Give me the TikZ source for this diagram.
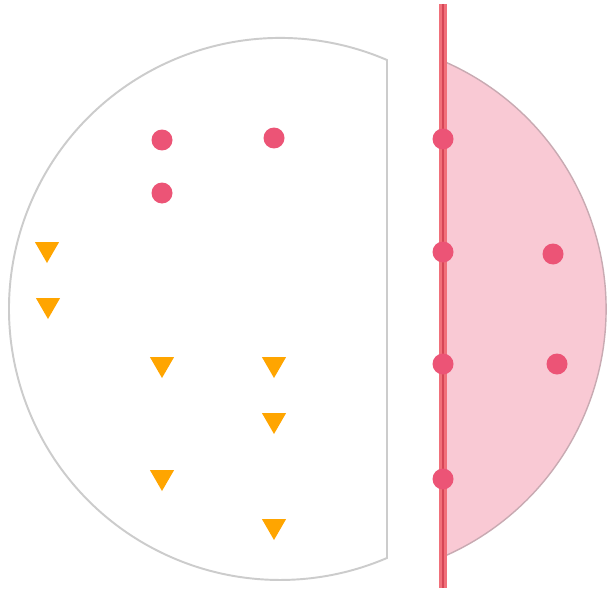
\documentclass[tikz,border=0pt]{standalone}
\usetikzlibrary{shapes.geometric}
\definecolor{dotred}{RGB}{236,84,118}
\definecolor{tri}{RGB}{255,165,0}
\definecolor{halfpink}{RGB}{249,201,212}
\definecolor{halfedge}{RGB}{200,170,178}
\definecolor{cutred}{RGB}{241,112,122}
\definecolor{cutdark}{RGB}{214,70,86}
\begin{document}
\begin{tikzpicture}[x=0.02cm,y=-0.02cm,half/.style={line width=1.1pt, draw=black!20},dot/.style={circle, fill=dotred, inner sep=0pt, minimum size=0.42cm},tridown/.style={regular polygon, regular polygon sides=3, shape border rotate=180, fill=tri, inner sep=0pt, minimum size=0.56cm}]
\useasboundingbox[fill=white] (0,0) rectangle (607,588);
% the two halves
\draw[half, fill=white] (387,60) arc[start angle=-66.75, end angle=-293.25, radius=271] -- cycle;
\draw[line width=0.8pt, draw=halfedge, fill=halfpink] (443,61) arc[start angle=-66.66, end angle=66.66, radius=270] -- cycle;
% cut line
\coordinate (cuttop) at (443,4); \coordinate (cutbot) at (443,588);
\draw[line width=4pt, cutred] (cuttop) -- (cutbot);
\draw[line width=1.1pt, cutdark] (cuttop) -- (cutbot);
% left class
\node[dot] (p1) at (162,140) {}; \node[dot] (p2) at (274,138) {}; \node[dot] (p3) at (162,193) {};
\node[tridown] (t1) at (47,249) {}; \node[tridown] (t2) at (48,305) {};
\node[tridown] (t3) at (162,364) {}; \node[tridown] (t4) at (274,364) {};
\node[tridown] (t5) at (274,420) {}; \node[tridown] (t6) at (162,477) {}; \node[tridown] (t7) at (274,526) {};
% on the line and right
\node[dot] (q1) at (443,139) {}; \node[dot] (q2) at (443,252) {}; \node[dot] (q3) at (443,364) {}; \node[dot] (q4) at (443,479) {};
\node[dot] (q5) at (553,254) {}; \node[dot] (q6) at (557,364) {};
\end{tikzpicture}
\end{document}
